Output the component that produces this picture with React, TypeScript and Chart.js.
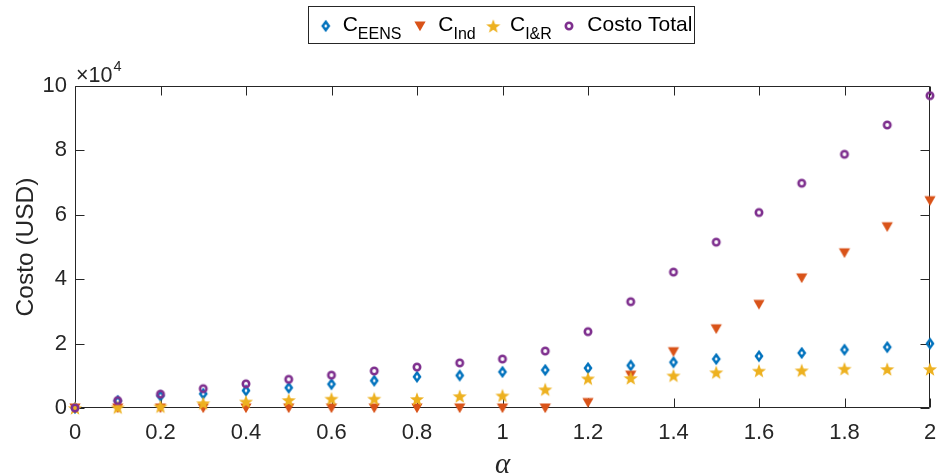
import React, { useEffect, useRef } from 'react';
import { Chart, registerables } from 'chart.js';
Chart.register(...registerables);

// ---- data ----
const alpha = [0, 0.1, 0.2, 0.3, 0.4, 0.5, 0.6, 0.7, 0.8, 0.9, 1.0, 1.1, 1.2, 1.3, 1.4, 1.5, 1.6, 1.7, 1.8, 1.9, 2.0];
const cEENS = [0, 2200, 3800, 4400, 5400, 6300, 7400, 8500, 9700, 10100, 11200, 11800, 12400, 13200, 14200, 15200, 16100, 17100, 18100, 18900, 20000];
const cInd = [0, 0, 0, 0, 0, 0, 0, 0, 0, 0, 0, 0, 1700, 10200, 17500, 24600, 32200, 40400, 48200, 56300, 64400];
const cIR = [0, 200, 500, 1500, 2000, 2500, 2900, 2900, 2800, 3700, 3900, 5800, 9200, 9300, 10100, 11100, 11600, 11700, 12200, 12100, 12100];
const costoTotal = [0, 2300, 4300, 6000, 7500, 8900, 10200, 11500, 12700, 14000, 15200, 17700, 23700, 33000, 42200, 51500, 60700, 69800, 78800, 87900, 97000];
const xTicks = [0, 0.2, 0.4, 0.6, 0.8, 1, 1.2, 1.4, 1.6, 1.8, 2];
const yTicks = [0, 2, 4, 6, 8, 10]; // in units of 10^4
const legendMain = ['C', 'C', 'C', 'Costo Total'];
const legendSub = ['EENS', 'Ind', 'I&R', ''];

const COLORS = ['#0072BD', '#D95319', '#EDB120', '#7E2F8E'];
const AXIS = '#262626';
const FONT = '"Liberation Sans", Arial, sans-serif';

function makeMarker(kind: string, color: string): HTMLCanvasElement {
  const c = document.createElement('canvas');
  const s = 18;
  c.width = s;
  c.height = s;
  const ctx = c.getContext('2d')!;
  const m = s / 2;
  ctx.strokeStyle = color;
  ctx.fillStyle = color;
  ctx.lineWidth = 2.5;
  ctx.lineJoin = 'miter';
  ctx.beginPath();
  if (kind === 'diamond') {
    ctx.moveTo(m, m - 4.2);
    ctx.lineTo(m + 3, m);
    ctx.lineTo(m, m + 4.2);
    ctx.lineTo(m - 3, m);
    ctx.closePath();
    ctx.stroke();
  } else if (kind === 'triangle') {
    ctx.moveTo(m - 5.6, m - 4.6);
    ctx.lineTo(m + 5.6, m - 4.6);
    ctx.lineTo(m, m + 5.2);
    ctx.closePath();
    ctx.fill();
  } else if (kind === 'star') {
    const R = 7.4;
    const r = 3.1;
    for (let i = 0; i < 10; i++) {
      const ang = -Math.PI / 2 + (i * Math.PI) / 5;
      const rr = i % 2 === 0 ? R : r;
      const x = m + rr * Math.cos(ang);
      const y = m + 0.7 + rr * Math.sin(ang);
      if (i === 0) ctx.moveTo(x, y);
      else ctx.lineTo(x, y);
    }
    ctx.closePath();
    ctx.fill();
  } else {
    ctx.lineWidth = 2.6;
    ctx.arc(m, m, 3.2, 0, Math.PI * 2);
    ctx.stroke();
  }
  return c;
}

export default function App() {
  const ref = useRef<HTMLCanvasElement | null>(null);
  useEffect(() => {
    if (!ref.current) return;
    const markers = [
      makeMarker('diamond', COLORS[0]),
      makeMarker('triangle', COLORS[1]),
      makeMarker('star', COLORS[2]),
      makeMarker('circle', COLORS[3]),
    ];
    const series = [cEENS, cInd, cIR, costoTotal];

    const framePlugin = {
      id: 'frame',
      beforeDatasetsDraw(chart: any) {
        const { ctx, chartArea: a, scales } = chart;
        const L = Math.round(a.left) + 0.5;
        const R = Math.round(a.right) - 0.5;
        const T = Math.round(a.top) + 0.5;
        const B = Math.round(a.bottom) - 0.5;
        ctx.save();
        ctx.strokeStyle = AXIS;
        ctx.lineWidth = 1;
        ctx.beginPath();
        ctx.rect(L, T, R - L, B - T);
        const tl = 9;
        xTicks.forEach((v) => {
          const x = Math.round(scales.x.getPixelForValue(v)) + 0.5;
          ctx.moveTo(x, B);
          ctx.lineTo(x, B - tl);
          ctx.moveTo(x, T);
          ctx.lineTo(x, T + tl);
        });
        yTicks.forEach((v) => {
          const y = Math.round(scales.y.getPixelForValue(v * 10000)) + 0.5;
          ctx.moveTo(L, y);
          ctx.lineTo(L + tl, y);
          ctx.moveTo(R, y);
          ctx.lineTo(R - tl, y);
        });
        ctx.stroke();
        ctx.restore();
      },
      afterDraw(chart: any) {
        const { ctx, chartArea: a } = chart;
        ctx.save();
        // exponent label
        ctx.fillStyle = AXIS;
        ctx.textBaseline = 'alphabetic';
        ctx.textAlign = 'left';
        ctx.font = `21.5px ${FONT}`;
        ctx.fillText('\u00d710', 76, 82);
        const w = ctx.measureText('\u00d710').width;
        ctx.font = `14.5px ${FONT}`;
        ctx.fillText('4', 76 + w + 1, 71);
        // y label
        ctx.save();
        ctx.translate(26, (a.top + a.bottom) / 2);
        ctx.rotate(-Math.PI / 2);
        ctx.textAlign = 'center';
        ctx.textBaseline = 'middle';
        ctx.font = `24.5px ${FONT}`;
        ctx.fillText('Costo (USD)', 0, 0);
        ctx.restore();
        // x label
        ctx.textAlign = 'center';
        ctx.textBaseline = 'middle';
        ctx.font = `italic 29px "Liberation Serif", "Times New Roman", serif`;
        ctx.fillText('\u03b1', (a.left + a.right) / 2, 465);
        // legend
        ctx.fillStyle = '#ffffff';
        ctx.fillRect(308.5, 6.5, 386, 37);
        ctx.strokeStyle = AXIS;
        ctx.lineWidth = 1;
        ctx.strokeRect(308.5, 6.5, 386, 37);
        const markX = [325.7, 420, 493.3, 569];
        const textX = [342.7, 438.3, 510, 587.3];
        for (let i = 0; i < 4; i++) {
          const mk = markers[i];
          ctx.drawImage(mk, markX[i] - mk.width / 2, 26 - mk.height / 2);
          ctx.fillStyle = '#000000';
          ctx.textAlign = 'left';
          ctx.textBaseline = 'alphabetic';
          ctx.font = `21px ${FONT}`;
          ctx.fillText(legendMain[i], textX[i], 30.5);
          if (legendSub[i]) {
            const mw = ctx.measureText(legendMain[i]).width;
            ctx.font = `16px ${FONT}`;
            ctx.fillText(legendSub[i], textX[i] + mw, 38.5);
          }
        }
        ctx.restore();
      },
    };

    const chart = new Chart(ref.current, {
      type: 'scatter',
      data: {
        datasets: series.map((d, i) => ({
          label: legendMain[i] + legendSub[i],
          data: alpha.map((x, j) => ({ x, y: d[j] })),
          pointStyle: markers[i] as any,
          pointRadius: 6,
          showLine: false,
          clip: false as any,
          order: 4 - i,
          backgroundColor: COLORS[i],
          borderColor: COLORS[i],
        })),
      },
      options: {
        animation: false,
        responsive: false,
        events: [],
        layout: { padding: { top: 86, right: 8, left: 0, bottom: 0 } },
        plugins: { legend: { display: false }, tooltip: { enabled: false }, title: { display: false } },
        scales: {
          x: {
            type: 'linear',
            min: 0,
            max: 2,
            grid: { display: false, drawTicks: false },
            border: { display: false },
            afterBuildTicks: (s: any) => {
              s.ticks = xTicks.map((v) => ({ value: v }));
            },
            afterFit: (s: any) => {
              s.height = 67;
              s.paddingLeft = 0;
              s.paddingRight = 0;
            },
            ticks: {
              padding: 12,
              color: AXIS,
              font: { family: FONT, size: 22 },
              maxRotation: 0,
              callback: (v: any) => String(Number(Number(v).toFixed(1))),
            },
          },
          y: {
            type: 'linear',
            min: 0,
            max: 100000,
            grid: { display: false, drawTicks: false },
            border: { display: false },
            afterBuildTicks: (s: any) => {
              s.ticks = yTicks.map((v) => ({ value: v * 10000 }));
            },
            afterFit: (s: any) => {
              s.width = 75;
              s.paddingTop = 0;
              s.paddingBottom = 0;
            },
            ticks: {
              padding: 8,
              color: AXIS,
              font: { family: FONT, size: 22 },
              callback: (v: any) => String(Math.round(Number(v) / 10000)),
            },
          },
        },
      },
      plugins: [framePlugin],
    });
    return () => chart.destroy();
  }, []);

  return (
    <div style={{ position: 'fixed', left: 0, top: 0, width: 938, height: 475, background: '#fff' }}>
      <canvas ref={ref} width={938} height={475} style={{ display: 'block' }} />
    </div>
  );
}
